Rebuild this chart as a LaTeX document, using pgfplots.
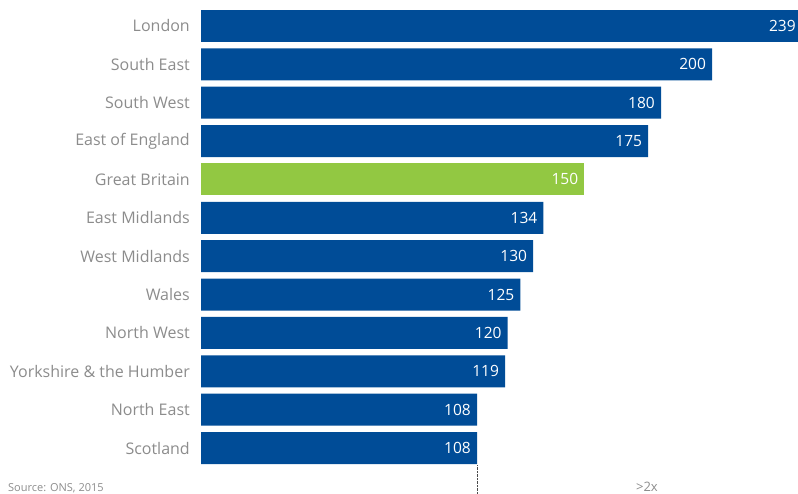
\documentclass[border=0pt]{standalone}
\usepackage{pgfplots}
\pgfplotsset{compat=1.18}
\usepackage{fontspec}
\setmainfont{Open Sans}
\definecolor{barblue}{RGB}{0,76,151}
\definecolor{bargreen}{RGB}{146,200,66}
\definecolor{labgray}{RGB}{140,140,140}
\begin{document}
\begin{tikzpicture}
\path[use as bounding box] (0,0) rectangle (798pt,494pt);
\clip (0,0) rectangle (798pt,494pt);
\begin{axis}[
  at={(201pt,26.8pt)}, anchor=south west,
  scale only axis, width=597pt, height=460.4pt,
  xbar, bar width=32pt, bar shift=0pt,
  xmin=0, xmax=233.6,
  ymin=-0.5, ymax=11.5, y dir=reverse,
  axis line style={draw=none},
  xtick=\empty,
  ytick={0,...,11},
  yticklabels={London,South East,South West,East of England,Great Britain,East Midlands,West Midlands,Wales,North West,Yorkshire \& the Humber,North East,Scotland},
  major tick length=0pt,
  yticklabel style={anchor=east, inner sep=0pt, xshift=-11pt, font=\fontsize{16}{19}\selectfont, text=labgray},
  /pgf/number format/assume math mode=true,
  nodes near coords,
  every node near coord/.append style={anchor=east, text=white, font=\fontsize{15.5}{18}\selectfont, inner sep=6pt},
  clip=false,
]
\addplot[fill=barblue, draw=none, nodes near coords style={xshift=-10pt}] coordinates {(239,0)};
\addplot[fill=barblue, draw=none] coordinates {
(200,1) (180,2) (175,3) (134,5) (130,6) (125,7) (120,8) (119,9) (108,10) (108,11)};
\addplot[fill=bargreen, draw=none] coordinates {(150,4)};
\draw[densely dotted, black!70] (axis cs:108,11.45) -- (axis cs:108,12.3);
\node[text=labgray, font=\fontsize{13}{15}\selectfont] at (axis cs:174.5,12.02) {>2x};
\end{axis}
\node[anchor=south west, text=labgray, font=\fontsize{11}{13}\selectfont, inner sep=0pt] at (8pt,1pt) {Source: ONS, 2015};
\end{tikzpicture}
\end{document}
